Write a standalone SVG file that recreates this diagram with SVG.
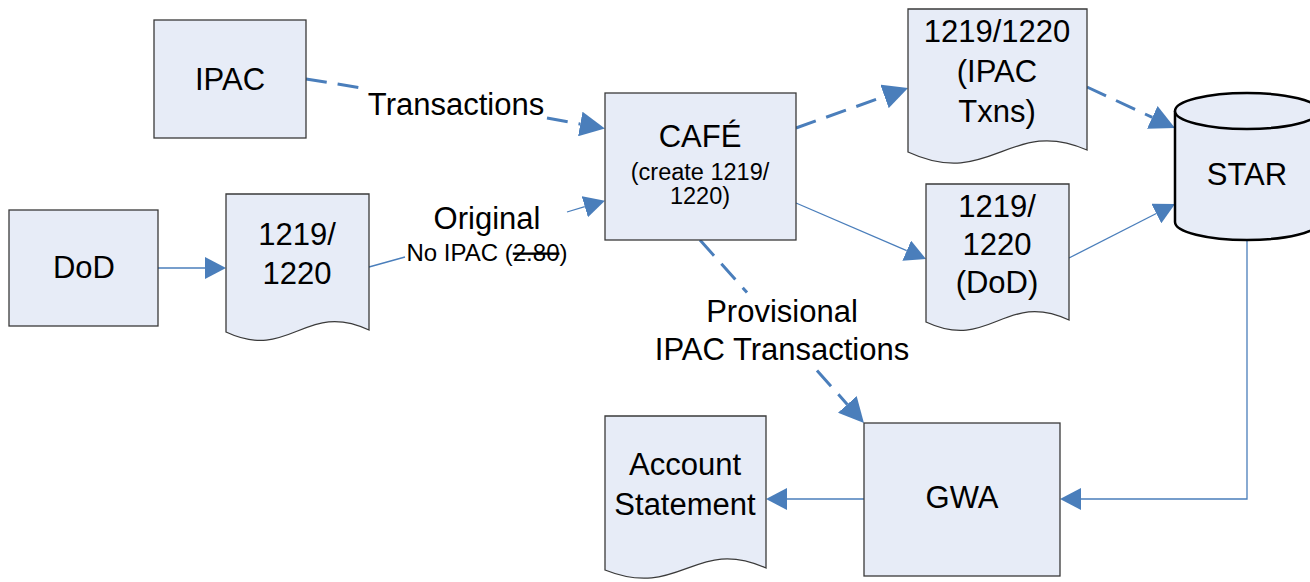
<svg xmlns="http://www.w3.org/2000/svg" width="1310" height="582" viewBox="0 0 1310 582">
<style>
.box{fill:#E7ECF7;stroke:#3a3a3a;stroke-width:1.3}
.cyl{fill:#E7ECF7;stroke:#000;stroke-width:2.5}
.t{font-family:"Liberation Sans",Arial,sans-serif;font-size:31px;fill:#000;text-anchor:middle}
.s{font-size:23.5px}
.ni{font-size:24px}
.thin{fill:none;stroke:#4A7EBB;stroke-width:1.3}
.dash{fill:none;stroke:#4A7EBB;stroke-width:3;stroke-dasharray:21 11}
.strike{text-decoration:line-through}
</style>
<defs>
<marker id="ah" markerUnits="userSpaceOnUse" markerWidth="21" markerHeight="22" refX="0" refY="11" orient="auto">
<path d="M0,0 L21,11 L0,22 Z" fill="#4A7EBB"/>
</marker>
<marker id="ahd" markerUnits="userSpaceOnUse" markerWidth="25" markerHeight="25" refX="0" refY="12.5" orient="auto">
<path d="M0,0 L25,12.5 L0,25 Z" fill="#4A7EBB"/>
</marker>
</defs>

<g id="connectors">
<path class="dash" d="M306,79 L362,88 M547,118 L580.3,124" marker-end="url(#ahd)"/>
<path class="thin" d="M158,268 L205,268" marker-end="url(#ah)"/>
<path class="thin" d="M369,267 L405,257 M567,212 L584.8,206.7" marker-end="url(#ah)"/>
<path class="dash" d="M796,128 L884.5,96.4" marker-end="url(#ahd)"/>
<path class="thin" d="M796,203 L906.7,250.7" marker-end="url(#ah)"/>
<path class="dash" d="M1087,87 L1152.3,117.4" marker-end="url(#ahd)"/>
<path class="thin" d="M1069,258 L1156.3,213.5" marker-end="url(#ah)"/>
<path class="dash" d="M700,240 L747,292.5 M817,370.5 L847.3,404.4" marker-end="url(#ahd)"/>
<path class="thin" d="M1247,240 L1247,499 L1081,499" marker-end="url(#ah)"/>
<path class="thin" d="M864,499 L787,499" marker-end="url(#ah)"/>
<text class="t" x="456" y="115">Transactions</text>
<text class="t" x="487" y="229">Original</text>
<text class="t ni" x="487" y="261">No IPAC (<tspan class="strike">2.80</tspan>)</text>
<text class="t" x="782" y="322">Provisional</text>
<text class="t" x="782" y="360">IPAC Transactions</text>
</g>

<g id="ipac">
<rect class="box" x="154" y="20" width="152" height="118"/>
<text class="t" x="230" y="90">IPAC</text>
</g>

<g id="dod">
<rect class="box" x="9" y="210" width="149" height="116"/>
<text class="t" x="84" y="278">DoD</text>
</g>

<g id="doc-left">
<path class="box" d="M226,194 L369,194 L369,330 C305,300 290,362 226,332 Z"/>
<text class="t" x="297" y="245">1219/</text>
<text class="t" x="297" y="284">1220</text>
</g>

<g id="cafe">
<rect class="box" x="605" y="93" width="191" height="147"/>
<text class="t" x="700" y="147">CAFÉ</text>
<text class="t s" x="700" y="180">(create 1219/</text>
<text class="t s" x="700" y="204">1220)</text>
</g>

<g id="doc-ipac-txns">
<path class="box" d="M908,9 L1087,9 L1087,150 C1010,116 990,190 908,152 Z"/>
<text class="t" x="997" y="42">1219/1220</text>
<text class="t" x="997" y="82">(IPAC</text>
<text class="t" x="997" y="122">Txns)</text>
</g>

<g id="doc-dod">
<path class="box" d="M926,184 L1069,184 L1069,320 C1005,290 990,352 926,322 Z"/>
<text class="t" x="997" y="217">1219/</text>
<text class="t" x="997" y="255">1220</text>
<text class="t" x="997" y="293">(DoD)</text>
</g>

<g id="star">
<path class="cyl" d="M1175,111 A72,18 0 0,1 1319,111 L1319,222 A72,18 0 0,1 1175,222 Z"/>
<path class="cyl" d="M1175,111 A72,18 0 0,0 1319,111" fill="none"/>
<text class="t" x="1247" y="185">STAR</text>
</g>

<g id="gwa">
<rect class="box" x="864" y="423" width="196" height="153"/>
<text class="t" x="962" y="508">GWA</text>
</g>

<g id="account-statement">
<path class="box" d="M605,416 L766,416 L766,568 C695,536 680,600 605,570 Z"/>
<text class="t" x="685" y="475">Account</text>
<text class="t" x="685" y="515">Statement</text>
</g>
</svg>
